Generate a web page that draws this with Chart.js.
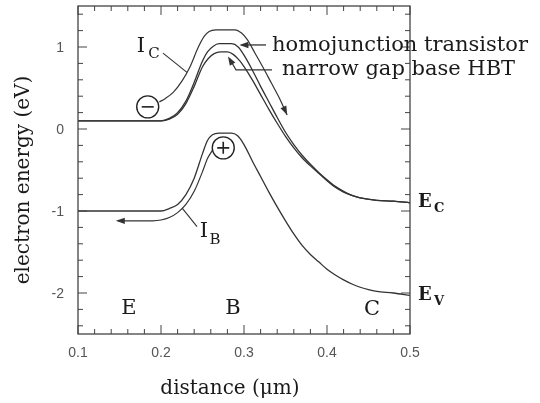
<!DOCTYPE html>
<html><head><meta charset="utf-8">
<script src="https://cdn.jsdelivr.net/npm/chart.js@4.4.0/dist/chart.umd.min.js"></script>
<style>html,body{margin:0;padding:0;background:#fff;}</style>
</head><body>
<canvas id="c" width="540" height="403"></canvas>
<script>
// ---- data ----
const xTickValues = [0.1, 0.2, 0.3, 0.4, 0.5];
const yTickValues = [-2, -1, 0, 1];

// valence band E_V
const evX = [0.1,0.2,0.21,0.22,0.23,0.24,0.25,0.256,0.262,0.27,0.285,0.292,0.30,0.31,0.32,0.33,0.34,0.35,0.36,0.37,0.38,0.39,0.40,0.41,0.42,0.43,0.44,0.45,0.46,0.48,0.5];
const evY = [-1.0,-1.0,-0.97,-0.92,-0.8,-0.6,-0.3,-0.14,-0.07,-0.05,-0.05,-0.08,-0.19,-0.39,-0.58,-0.77,-0.95,-1.12,-1.28,-1.42,-1.53,-1.62,-1.71,-1.78,-1.84,-1.89,-1.93,-1.96,-1.98,-2.0,-2.03];

// conduction band, homojunction transistor
const ecHomoX = [0.1,0.2,0.21,0.22,0.23,0.24,0.25,0.256,0.263,0.27,0.285,0.293,0.30,0.31,0.32,0.33,0.34,0.35,0.36,0.37,0.38,0.39,0.40,0.41,0.42,0.43,0.44,0.46,0.48,0.5];
const ecHomoY = [0.1,0.1,0.13,0.2,0.34,0.57,0.83,0.94,1.01,1.04,1.04,1.0,0.9,0.72,0.52,0.33,0.14,-0.04,-0.19,-0.32,-0.43,-0.53,-0.62,-0.7,-0.76,-0.81,-0.84,-0.87,-0.88,-0.9];

// conduction band, narrow gap base HBT
const ecHbtX = [0.1,0.2,0.21,0.22,0.23,0.24,0.25,0.257,0.264,0.272,0.28,0.287,0.295,0.30,0.31,0.32,0.33,0.34,0.35,0.36,0.37,0.38,0.39,0.40,0.41,0.42,0.43,0.44,0.46,0.48,0.5];
const ecHbtY = [0.1,0.1,0.12,0.18,0.31,0.52,0.76,0.86,0.92,0.94,0.94,0.91,0.83,0.76,0.6,0.42,0.24,0.07,-0.09,-0.23,-0.35,-0.45,-0.54,-0.63,-0.71,-0.77,-0.81,-0.84,-0.87,-0.88,-0.9];

// electron current path I_C
const icX = [0.198,0.205,0.215,0.225,0.235,0.245,0.252,0.258,0.266,0.289,0.297,0.304,0.313,0.323,0.333,0.343,0.352];
const icY = [0.33,0.37,0.45,0.58,0.76,1.0,1.13,1.19,1.21,1.21,1.17,1.09,0.93,0.75,0.56,0.37,0.17];

// hole current path I_B
const ibX = [0.262,0.256,0.25,0.24,0.23,0.22,0.21,0.2,0.19,0.148];
const ibY = [-0.26,-0.36,-0.52,-0.76,-0.92,-1.02,-1.08,-1.11,-1.12,-1.12];

// carriers
const electronPos = {x: 0.184, y: 0.27};
const holePos = {x: 0.275, y: -0.23};

const pts = (xs, ys) => xs.map((v, i) => ({x: v, y: ys[i]}));
const LINE = '#333';

const lineDs = (label, xs, ys, w) => ({
  type: 'line', label, data: pts(xs, ys), borderColor: LINE, borderWidth: w || 1.3,
  pointRadius: 0, fill: false, cubicInterpolationMode: 'monotone'
});

const serif = '"DejaVu Serif", serif';
const sans = '"Liberation Sans", Arial, sans-serif';

const deco = {
  id: 'deco',
  afterDraw(chart) {
    const {ctx, chartArea: a, scales: {x, y}} = chart;
    const X = v => x.getPixelForValue(v), Y = v => y.getPixelForValue(v);
    const seg = (x1, y1, x2, y2) => { ctx.beginPath(); ctx.moveTo(x1, y1); ctx.lineTo(x2, y2); ctx.stroke(); };
    const head = (x1, y1, x2, y2, len = 9, wid = 3.2) => {
      const ang = Math.atan2(y2 - y1, x2 - x1), c = Math.cos(ang), s = Math.sin(ang);
      ctx.beginPath(); ctx.moveTo(x2, y2);
      ctx.lineTo(x2 - len * c + wid * s, y2 - len * s - wid * c);
      ctx.lineTo(x2 - len * c - wid * s, y2 - len * s + wid * c);
      ctx.closePath(); ctx.fill();
    };
    ctx.save();
    ctx.strokeStyle = '#444'; ctx.fillStyle = '#222';
    // frame
    ctx.lineWidth = 1.3;
    ctx.strokeRect(a.left, a.top, a.right - a.left, a.bottom - a.top);
    // inward ticks
    ctx.lineWidth = 1;
    for (let i = 0; i <= 20; i++) {
      const v = 0.1 + i * 0.02, px = X(v), L = (i % 5 === 0) ? 9 : 5;
      seg(px, a.bottom, px, a.bottom - L); seg(px, a.top, px, a.top + L);
    }
    for (let i = 0; i <= 19; i++) {
      const v = -2.4 + i * 0.2, py = Y(v);
      const L = Math.abs(v - Math.round(v)) < 1e-6 ? 9 : 5;
      seg(a.left, py, a.left + L, py); seg(a.right, py, a.right - L, py);
    }
    // y tick labels
    ctx.fillStyle = '#555';
    ctx.font = '14px ' + sans;
    ctx.textAlign = 'right'; ctx.textBaseline = 'middle';
    yTickValues.forEach(v => ctx.fillText(String(v), a.left - 14, Y(v) + 1));
    // arrowheads on current paths
    ctx.strokeStyle = '#333'; ctx.fillStyle = '#333'; ctx.lineWidth = 1.3;
    let n = icX.length;
    head(X(icX[n - 2]), Y(icY[n - 2]), X(icX[n - 1]), Y(icY[n - 1]));
    n = ibX.length;
    head(X(ibX[n - 2]), Y(ibY[n - 2]), X(ibX[n - 1]) - 2, Y(ibY[n - 1]));
    // annotation arrows
    ctx.lineWidth = 1.3;
    seg(X(0.3265), Y(1.025), X(0.297), Y(1.025));
    head(X(0.3265), Y(1.025), X(0.2945), Y(1.025));
    ctx.beginPath();
    ctx.moveTo(X(0.3337), Y(0.72)); ctx.lineTo(X(0.2904), Y(0.72)); ctx.lineTo(X(0.2825), Y(0.86));
    ctx.stroke();
    head(X(0.2904), Y(0.72), X(0.2807), Y(0.885));
    // leader lines
    ctx.lineWidth = 1.1;
    seg(X(0.2024), Y(0.925), X(0.2313), Y(0.69));
    seg(X(0.2253), Y(-0.961), X(0.2434), Y(-1.19));
    // texts
    ctx.fillStyle = '#1a1a1a';
    ctx.textBaseline = 'middle';
    ctx.textAlign = 'left';
    ctx.font = '21px ' + serif;
    ctx.fillText('homojunction transistor', X(0.3337), Y(1.02));
    ctx.fillText('narrow gap base HBT', X(0.3458), Y(0.72));
    ctx.textAlign = 'center';
    ctx.font = '21px ' + serif;
    ctx.fillText('I', X(0.1759), Y(1.01));
    ctx.fillText('I', X(0.2518), Y(-1.253));
    ctx.fillText('E', X(0.1614), Y(-2.19));
    ctx.fillText('B', X(0.2867), Y(-2.19));
    ctx.fillText('C', X(0.4542), Y(-2.2));
    ctx.font = '15px ' + serif;
    ctx.fillText('C', X(0.1916), Y(0.91));
    ctx.fillText('B', X(0.265), Y(-1.36));
    ctx.font = 'bold 18px ' + serif;
    ctx.fillText('E', X(0.518), Y(-0.90));
    ctx.fillText('E', X(0.518), Y(-2.03));
    ctx.font = 'bold 13px ' + serif;
    ctx.fillText('C', X(0.535), Y(-0.975));
    ctx.fillText('V', X(0.535), Y(-2.105));
    // axis titles
    ctx.font = '20px ' + serif;
    ctx.fillText('distance (\u03bcm)', 230, 389);
    ctx.translate(24, 180); ctx.rotate(-Math.PI / 2);
    ctx.fillText('electron energy (eV)', 0, 0);
    ctx.restore();
  }
};

new Chart(document.getElementById('c'), {
  data: {
    datasets: [
      {type: 'scatter', label: 'sign-', data: [electronPos], pointStyle: 'line', pointRadius: 6, borderColor: '#222', borderWidth: 1.6, backgroundColor: '#222'},
      {type: 'scatter', label: 'sign+', data: [holePos], pointStyle: 'cross', pointRadius: 6, borderColor: '#222', borderWidth: 1.6, backgroundColor: '#222'},
      {type: 'scatter', label: 'circles', data: [electronPos, holePos], pointStyle: 'circle', pointRadius: 11, borderColor: '#222', borderWidth: 1.4, backgroundColor: '#fff'},
      lineDs('I_C', icX, icY, 1.2),
      lineDs('I_B', ibX, ibY, 1.2),
      lineDs('homojunction transistor', ecHomoX, ecHomoY),
      lineDs('narrow gap base HBT', ecHbtX, ecHbtY),
      lineDs('E_V', evX, evY)
    ]
  },
  options: {
    responsive: false, devicePixelRatio: 1, animation: false,
    layout: {autoPadding: false, padding: {left: 0, top: 6, right: 130, bottom: 0}},
    plugins: {legend: {display: false}, tooltip: {enabled: false}},
    scales: {
      x: {
        type: 'linear', min: 0.1, max: 0.5,
        afterBuildTicks: s => { s.ticks = xTickValues.map(v => ({value: v})); },
        afterFit: s => { s.height = 69; },
        grid: {display: false, drawTicks: false}, border: {display: false},
        ticks: {padding: 11, color: '#555', font: {family: sans, size: 14},
                callback: v => v.toFixed(1)}
      },
      y: {
        type: 'linear', min: -2.5, max: 1.5,
        afterBuildTicks: s => { s.ticks = yTickValues.map(v => ({value: v})); },
        afterFit: s => { s.width = 78; },
        grid: {display: false, drawTicks: false}, border: {display: false},
        ticks: {display: false}
      }
    }
  },
  plugins: [deco]
});
</script>
</body></html>
